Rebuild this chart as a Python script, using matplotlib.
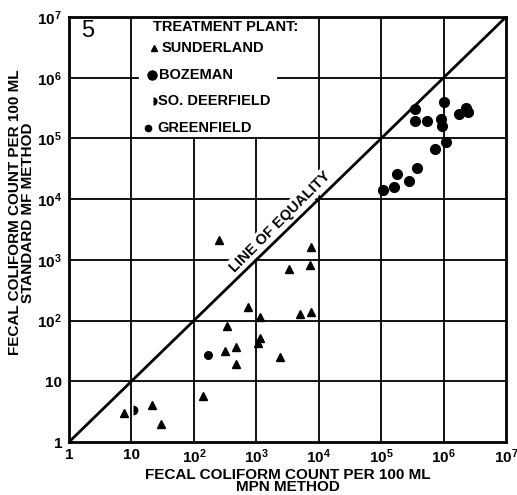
import numpy as np
import matplotlib.pyplot as plt

plt.rcParams['font.family'] = ['Liberation Sans', 'DejaVu Sans']
plt.rcParams['font.weight'] = 'bold'
plt.rcParams['mathtext.fontset'] = 'custom'
plt.rcParams['mathtext.rm'] = 'Liberation Sans:bold'
plt.rcParams['mathtext.bf'] = 'Liberation Sans:bold'
plt.rcParams['mathtext.it'] = 'Liberation Sans:bold'

# fecal coliform counts per 100 ml: (MPN method, standard MF method)
sunderland_mpn = [7.6, 21, 30, 140, 250, 7400, 7200, 3300, 740, 1150,
                  5100, 7600, 340, 1150, 1070, 480, 320, 470, 2400]
sunderland_mf = [3.0, 4.0, 2.0, 5.8, 2100, 1600, 830, 700, 165, 115,
                 130, 140, 80, 52, 42, 37, 32, 19, 25]

bozeman_mpn = [3.55e5, 1.0e6, 3.5e5, 5.5e5, 9.1e5, 9.3e5, 1.74e6, 2.3e6,
               2.5e6, 1.1e6, 7.4e5, 3.7e5, 1.8e5, 2.8e5, 1.6e5, 1.07e5]
bozeman_mf = [3.1e5, 4.0e5, 1.95e5, 1.95e5, 2.1e5, 1.6e5, 2.5e5, 3.2e5,
              2.75e5, 8.9e4, 6.6e4, 3.3e4, 2.6e4, 2.0e4, 1.6e4, 1.4e4]

deerfield_mpn = [10.7]
deerfield_mf = [3.4]

greenfield_mpn = [170]
greenfield_mf = [27]

decades = [1, 10, 1e2, 1e3, 1e4, 1e5, 1e6, 1e7]
tick_labels = ['1', '10', r'$10^2$', r'$10^3$', r'$10^4$', r'$10^5$', r'$10^6$', r'$10^7$']

fig = plt.figure(figsize=(5.17, 4.95), dpi=100)
ax = fig.add_axes([69 / 517, 53 / 495, 437 / 517, 425 / 495])
ax.set_xscale('log')
ax.set_yscale('log')
ax.set_xlim(decades[0], decades[-1])
ax.set_ylim(decades[0], decades[-1])
ax.set_xticks(decades)
ax.set_yticks(decades)
ax.set_xticklabels(tick_labels)
ax.set_yticklabels(tick_labels)
ax.minorticks_off()
ax.tick_params(length=0, labelsize=11)
ax.tick_params(axis='x', pad=4)
ax.tick_params(axis='y', pad=5)
for sp in ax.spines.values():
    sp.set_linewidth(2)

# grid, broken where the legend sits
gkw = dict(color='k', lw=1.3, zorder=1)
for v in decades[1:-1]:
    top = 5 / 7 if v in (1e2, 1e3) else 1
    ax.axvline(v, ymax=top, **gkw)
for v in decades[1:-1]:
    if v == 1e6:
        ax.axhline(v, xmax=1.1 / 7, **gkw)
        ax.axhline(v, xmin=3.35 / 7, **gkw)
    else:
        ax.axhline(v, **gkw)

# line of equality
ax.plot([decades[0], decades[-1]], [decades[0], decades[-1]], color='k', lw=2, zorder=3)
ax.annotate('LINE OF EQUALITY', xy=(10 ** 3.5, 10 ** 3.5), xytext=(-2, 2),
            textcoords='offset points', rotation=45, rotation_mode='anchor',
            ha='center', va='bottom', fontsize=10.5, fontweight='bold', zorder=2.5,
            bbox=dict(fc='white', ec='none', pad=1.5))

ax.plot(sunderland_mpn, sunderland_mf, '^', color='k', ms=5.5, zorder=4)
ax.plot(bozeman_mpn, bozeman_mf, 'o', color='k', ms=7, zorder=4)
ax.plot(deerfield_mpn, deerfield_mf, 'o', color='k', ms=7, fillstyle='right',
        markerfacecoloralt='none', mew=0, zorder=4)
ax.plot(greenfield_mpn, greenfield_mf, 'o', color='k', ms=5.5, zorder=4)

# legend, drawn by hand like the original
tr = ax.transAxes
fs = 10.5
ax.text(0.192, 0.976, 'TREATMENT PLANT:', transform=tr, fontsize=fs, va='center', ha='left')
ax.plot([0.195], [0.927], '^', color='k', ms=4.5, transform=tr, clip_on=False)
ax.text(0.213, 0.927, 'SUNDERLAND', transform=tr, fontsize=fs, va='center', ha='left')
ax.plot([0.190], [0.864], 'o', color='k', ms=6.5, transform=tr, clip_on=False)
ax.text(0.206, 0.864, 'BOZEMAN', transform=tr, fontsize=fs, va='center', ha='left')
ax.plot([0.192], [0.802], 'o', color='k', ms=6, fillstyle='right',
        markerfacecoloralt='none', mew=0, transform=tr, clip_on=False)
ax.text(0.204, 0.802, 'SO. DEERFIELD', transform=tr, fontsize=fs, va='center', ha='left')
ax.plot([0.181], [0.739], 'o', color='k', ms=4.5, transform=tr, clip_on=False)
ax.text(0.203, 0.739, 'GREENFIELD', transform=tr, fontsize=fs, va='center', ha='left')

ax.text(0.043, 0.968, '5', transform=tr, fontsize=17, fontweight='normal',
        va='center', ha='center')

ax.set_xlabel('FECAL COLIFORM COUNT PER 100 ML\nMPN METHOD', fontsize=11,
              fontweight='bold', labelpad=1, linespacing=0.9)
ax.set_ylabel('FECAL COLIFORM COUNT PER 100 ML\nSTANDARD MF METHOD', fontsize=11,
              fontweight='bold', linespacing=0.9)
ax.yaxis.set_label_coords(-0.078, 0.54)

fig.savefig('out.png', dpi=100)
